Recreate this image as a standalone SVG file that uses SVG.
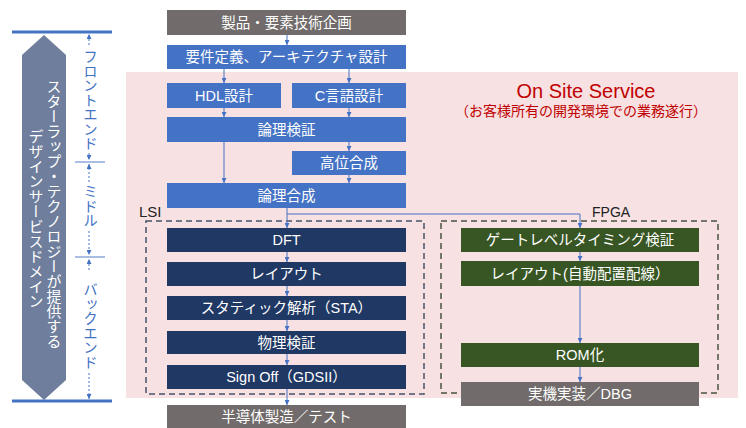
<svg xmlns="http://www.w3.org/2000/svg" width="746" height="428" viewBox="0 0 746 428">
<defs>
<style>
text{font-family:"Liberation Sans","Noto Sans CJK JP",sans-serif;}
.t{fill:#fff;font-size:14.5px;text-anchor:middle;dominant-baseline:central;}
.gray{fill:#716c6b;}
.blue{fill:#4472c4;}
.navy{fill:#1f3864;}
.green{fill:#375623;}
.c{stroke:#4472c4;stroke-width:1;fill:none;marker-end:url(#ah);}
.d{stroke:#4472c4;stroke-width:1;stroke-dasharray:2,2;fill:none;}
.vt{writing-mode:vertical-rl;text-anchor:middle;}
</style>
<marker id="ah" markerUnits="userSpaceOnUse" markerWidth="6" markerHeight="5" refX="5" refY="2.5" orient="auto">
<path d="M0,0 L5,2.5 L0,5 z" fill="#4472c4"/>
</marker>
</defs>
<rect x="126" y="72" width="612" height="326" fill="#f8e1e2"/>
<g id="side">
<line x1="12" y1="32" x2="112" y2="32" stroke="#4472c4" stroke-width="3"/>
<line x1="12" y1="401" x2="112" y2="401" stroke="#4472c4" stroke-width="3"/>
<polygon points="44,35 66,55 66,380 44,400 22,380 22,55" fill="#6e7e9c"/>
<text class="vt" x="53" y="214" fill="#fff" font-size="15">スターラップ・テクノロジーが提供する</text>
<text class="vt" x="35" y="219" fill="#fff" font-size="15">デザインサービスドメイン</text>
<line x1="75" y1="162" x2="105" y2="162" stroke="#8ea9db" stroke-width="1.5"/>
<line x1="75" y1="257" x2="105" y2="257" stroke="#8ea9db" stroke-width="1.5"/>
<path class="d" d="M89,45 V34" marker-end="url(#ah)"/>
<path class="d" d="M89,153 V160" marker-end="url(#ah)"/>
<path class="d" d="M89,182 V164" marker-end="url(#ah)"/>
<path class="d" d="M89,231 V255" marker-end="url(#ah)"/>
<path class="d" d="M89,270 V259" marker-end="url(#ah)"/>
<path class="d" d="M89,373 V399" marker-end="url(#ah)"/>
<text class="vt" x="89" y="100" fill="#4472c4" font-size="14.5">フロントエンド</text>
<text class="vt" x="89" y="206" fill="#4472c4" font-size="14.5">ミドル</text>
<text class="vt" x="89" y="326" fill="#4472c4" font-size="14.5">バックエンド</text>
</g>
<g id="onsite">
<text x="586" y="98" fill="#c00000" font-size="20" text-anchor="middle">On Site Service</text>
<text x="581" y="116" fill="#c00000" font-size="14" text-anchor="middle">（お客様所有の開発環境での業務遂行）</text>
</g>
<g id="groups">
<rect x="146" y="221" width="278" height="173" fill="none" stroke="#44546a" stroke-width="1.5" stroke-dasharray="6,4"/>
<text x="139" y="217" fill="#222" font-size="15">LSI</text>
<rect x="441" y="221" width="277" height="172" fill="none" stroke="#4a5240" stroke-width="1.5" stroke-dasharray="6,4"/>
<text x="592" y="217" fill="#222" font-size="14">FPGA</text>
</g>
<g id="connectors">
<path class="c" d="M287,35 V45"/>
<path class="c" d="M224,69 V83"/>
<path class="c" d="M349,69 V83"/>
<path class="c" d="M224,108 V117"/>
<path class="c" d="M349,108 V117"/>
<path class="c" d="M224,142 V183"/>
<path class="c" d="M349,142 V151"/>
<path class="c" d="M349,175 V183"/>
<path class="c" d="M287,208 V228"/>
<path class="c" d="M287,214 H580 V228"/>
<path class="c" d="M287,252 V262"/>
<path class="c" d="M287,286 V296"/>
<path class="c" d="M287,320 V331"/>
<path class="c" d="M287,354 V365"/>
<path class="c" d="M287,389 V405"/>
<path class="c" d="M580,252 V261"/>
<path class="c" d="M580,286 V343"/>
<path class="c" d="M580,367 V382"/>
</g>
<g id="n1"><rect class="gray" x="167" y="10" width="239" height="25"/><text class="t" x="286.5" y="22.5">製品・要素技術企画</text></g>
<g id="n2"><rect class="blue" x="167" y="45" width="239" height="24"/><text class="t" x="286.5" y="57">要件定義、アーキテクチャ設計</text></g>
<g id="n3"><rect class="blue" x="167" y="83" width="114" height="25"/><text class="t" x="224" y="95.5">HDL設計</text></g>
<g id="n4"><rect class="blue" x="292" y="83" width="114" height="25"/><text class="t" x="349" y="95.5">C言語設計</text></g>
<g id="n5"><rect class="blue" x="167" y="117" width="239" height="25"/><text class="t" x="286.5" y="129.5">論理検証</text></g>
<g id="n6"><rect class="blue" x="292" y="151" width="114" height="24"/><text class="t" x="349" y="163">高位合成</text></g>
<g id="n7"><rect class="blue" x="167" y="183" width="239" height="25"/><text class="t" x="286.5" y="195.5">論理合成</text></g>
<g id="n8"><rect class="navy" x="167" y="228" width="239" height="24"/><text class="t" x="286.5" y="240">DFT</text></g>
<g id="n9"><rect class="navy" x="167" y="262" width="239" height="24"/><text class="t" x="286.5" y="274">レイアウト</text></g>
<g id="n10"><rect class="navy" x="167" y="296" width="239" height="24"/><text class="t" x="286.5" y="308">スタティック解析（STA）</text></g>
<g id="n11"><rect class="navy" x="167" y="331" width="239" height="23"/><text class="t" x="286.5" y="342.5">物理検証</text></g>
<g id="n12"><rect class="navy" x="167" y="365" width="239" height="24"/><text class="t" x="286.5" y="377">Sign Off（GDSII）</text></g>
<g id="n13"><rect class="gray" x="167" y="405" width="239" height="25"/><text class="t" x="286.5" y="416.5">半導体製造／テスト</text></g>
<g id="n14"><rect class="green" x="461" y="228" width="238" height="24"/><text class="t" x="580" y="240">ゲートレベルタイミング検証</text></g>
<g id="n15"><rect class="green" x="461" y="261" width="238" height="25"/><text class="t" x="580" y="273.5">レイアウト(自動配置配線）</text></g>
<g id="n16"><rect class="green" x="461" y="343" width="238" height="24"/><text class="t" x="580" y="355">ROM化</text></g>
<g id="n17"><rect class="gray" x="461" y="382" width="238" height="24"/><text class="t" x="580" y="394">実機実装／DBG</text></g>
</svg>
